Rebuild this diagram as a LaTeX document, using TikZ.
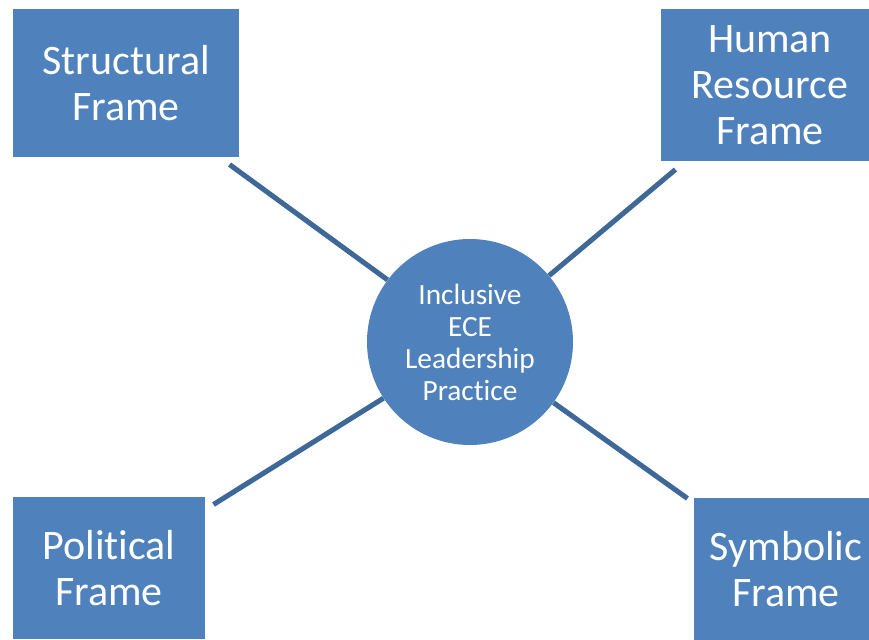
\documentclass[tikz,border=0pt]{standalone}
\usepackage{fontspec}
\setmainfont{Carlito}[Ligatures=NoCommon]
\definecolor{frameblue}{HTML}{4F81BD}
\definecolor{linkblue}{HTML}{3E6898}

\begin{document}
\begin{tikzpicture}[x=0.75pt,y=-0.75pt,
  frame/.style={rectangle,fill=frameblue,draw=white,line width=0.8pt,text=white,align=center,inner sep=0pt,font=\fontsize{31.5}{34.5}\selectfont},
  hub/.style={circle,fill=frameblue,text=white,align=center,inner sep=0pt,minimum size=154.5pt,font=\fontsize{22}{24}\selectfont},
  link/.style={draw=linkblue,line width=3.8pt}]
\useasboundingbox (0,0) rectangle (869,640);

\node[hub] (ieclp) at (470,342) {Inclusive\\ECE\\Leadership\\Practice};

\node[frame,minimum width=171pt,minimum height=112.5pt] (sf) at (126,83) {Structural\\Frame};
\node[frame,minimum width=165pt,minimum height=115.5pt] (hrf) at (770,85) {Human\\Resource\\Frame};
\node[frame,minimum width=145.5pt,minimum height=108pt] (pf) at (109,568) {Political\\Frame};
\node[frame,minimum width=139.5pt,minimum height=108pt] (symf) at (786,569) {Symbolic\\Frame};

% line ends just off the frames
\coordinate (sf-end) at ([shift={(-11,6)}]sf.south east);
\coordinate (hrf-end) at ([shift={(16,7)}]hrf.south west);
\coordinate (pf-end) at ([shift={(7,9)}]pf.north east);
\coordinate (symf-end) at ([shift={(-5,2)}]symf.north west);

\draw[link] (ieclp.143) -- (sf-end);
\draw[link] (ieclp.40) -- (hrf-end);
\draw[link] (ieclp.213) -- (pf-end);
\draw[link] (ieclp.324) -- (symf-end);
\end{tikzpicture}
\end{document}
